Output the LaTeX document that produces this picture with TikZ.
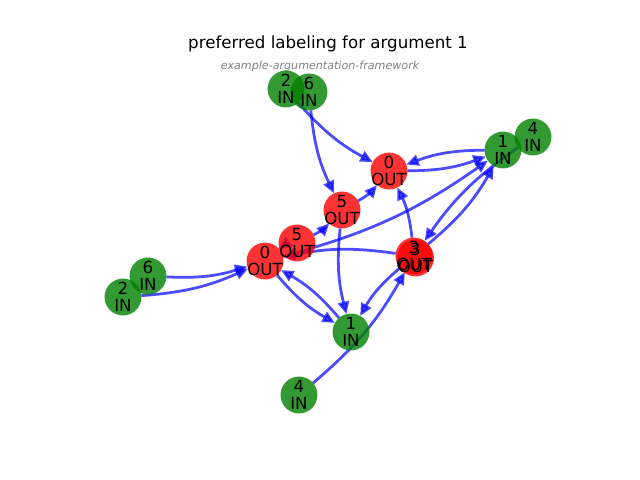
\documentclass[tikz,border=0pt]{standalone}
\usepackage{fontspec}
\setmainfont{DejaVu Sans}
\usetikzlibrary{arrows.meta,backgrounds}
\definecolor{argin}{RGB}{0,128,0}
\definecolor{argout}{RGB}{255,0,0}
\definecolor{attack}{RGB}{0,0,255}
\definecolor{subgray}{RGB}{128,128,128}
\pgfdeclarelayer{labels}
\pgfsetlayers{background,main,labels}
\begin{document}
\begin{tikzpicture}[x=0.72pt,y=-0.72pt,
  arg/.style={circle, minimum size=26.6pt, inner sep=0pt, outer sep=0pt},
  inarg/.style={arg, fill=argin, fill opacity=0.8},
  outarg/.style={arg, fill=argout, fill opacity=0.8},
  lbl/.style={align=center, inner sep=0pt, font=\fontsize{12}{12.3}\selectfont},
  att/.style={draw=attack, opacity=0.7, line width=2pt,
    -{Triangle[length=9pt,width=8pt]}}]
\useasboundingbox (0,0) rectangle (640,480);

% title and subtitle
\node[font=\fontsize{12}{14}\selectfont] (title) at (328,44) {preferred labeling for argument 1};
\node[font=\fontsize{8}{10}\selectfont\itshape, text=subgray] (subtitle) at (320,66) {example-argumentation-framework};

% arguments
\node[inarg]  (t2) at (286,89) {};
\node[inarg]  (t6) at (309,92) {};
\node[outarg] (o0) at (389,171) {};
\node[inarg]  (r1) at (503,150) {};
\node[inarg]  (r4) at (533,137) {};
\node[outarg] (u5) at (342,210) {};
\node[outarg] (l5) at (297,243) {};
\node[outarg] (l0) at (265,261) {};
\node[outarg] (a3) at (414,256) {};
\node[outarg] (b3) at (415.5,258) {};
\node[inarg]  (l6) at (148,276) {};
\node[inarg]  (l2) at (123,297) {};
\node[inarg]  (b1) at (351,332) {};
\node[inarg]  (b4) at (299,395) {};

% labels on top of all discs
\begin{pgfonlayer}{labels}
\node[lbl] (t2-text) at (t2) {2\\IN};
\node[lbl] (t6-text) at (t6) {6\\IN};
\node[lbl] (o0-text) at (o0) {0\\OUT};
\node[lbl] (r1-text) at (r1) {1\\IN};
\node[lbl] (r4-text) at (r4) {4\\IN};
\node[lbl] (u5-text) at (u5) {5\\OUT};
\node[lbl] (l5-text) at (l5) {5\\OUT};
\node[lbl] (l0-text) at (l0) {0\\OUT};
\node[lbl] (a3-text) at (a3) {3\\OUT};
\node[lbl] (b3-text) at (b3) {3\\OUT};
\node[lbl] (l6-text) at (l6) {6\\IN};
\node[lbl] (l2-text) at (l2) {2\\IN};
\node[lbl] (b1-text) at (b1) {1\\IN};
\node[lbl] (b4-text) at (b4) {4\\IN};
\end{pgfonlayer}

% attacks, drawn beneath the discs
\begin{scope}[on background layer]
\draw[att] (t6) to[bend right=10] (u5);
\draw[att] (t2) to[bend right=10] (o0);
\draw[att] (r1) to[bend right=10] (o0);
\draw[att] (o0) to[bend right=10] (r1);
\draw[att] (u5) to[bend right=10] (o0);
\draw[att] (a3) to[bend right=10] (o0);
\draw[att] (r4) to[bend right=10] (a3);
\draw[att] (a3) to[bend right=10] (r1);
\draw[att] (l0) to[bend right=10] (r1);
\draw[att] (l5) to[bend right=10] (u5);
\draw[att] (a3) to[bend right=10] (l0);
\draw[att] (l5) to[bend right=10] (l0);
\draw[att] (l6) to[bend right=10] (l0);
\draw[att] (l2) to[bend right=10] (l0);
\draw[att] (l0) to[bend right=10] (b1);
\draw[att] (b1) to[bend right=10] (l0);
\draw[att] (u5) to[bend right=10] (b1);
\draw[att] (a3) to[bend right=10] (b1);
\draw[att] (b4) to[bend right=10] (a3);
\end{scope}
\end{tikzpicture}
\end{document}
